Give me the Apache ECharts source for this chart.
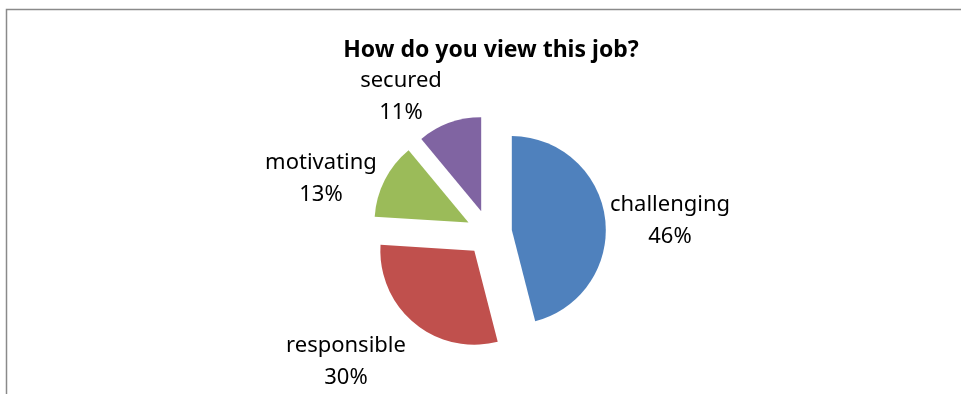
<!DOCTYPE html>
<html>
<head>
<meta charset="utf-8">
<script src="https://cdn.jsdelivr.net/npm/echarts@6/dist/echarts.min.js"></script>
<style>
  html, body { margin: 0; padding: 0; background: #fff; }
  #chart { width: 961px; height: 394px; }
</style>
</head>
<body>
<div id="chart"></div>
<script>
// Survey answers: how respondents view the job (percent)
const categories = ['challenging', 'responsible', 'motivating', 'secured'];
const shares = [46, 30, 13, 11];
const colors = ['#4F81BD', '#C0504D', '#9BBB59', '#8064A2'];

// Centre point of each two-line category label
const labelPos = [[670, 221], [346, 362], [321, 179], [401, 97]];

const pieCenter = [489, 233];
const pieRadius = 94;

const chart = echarts.init(document.getElementById('chart'), null, { renderer: 'canvas' });

const pieData = (extra) => categories.map((name, i) => Object.assign({
  name: name,
  value: shares[i]
}, extra(i)));

chart.setOption({
  animation: false,
  backgroundColor: '#ffffff',
  title: {
    text: 'How do you view this job?',
    left: 486,
    textAlign: 'center',
    top: 34,
    textStyle: {
      fontFamily: 'Noto Sans',
      fontWeight: 'bold',
      fontSize: 23,
      color: '#000'
    }
  },
  graphic: [{
    type: 'rect',
    shape: { x: 6.5, y: 9.5, width: 1100, height: 600 },
    style: { fill: 'none', stroke: '#8a8a8a', lineWidth: 1.5 },
    silent: true
  }],
  series: [
    // Exploded slices
    {
      type: 'pie',
      center: pieCenter,
      radius: [0, pieRadius],
      startAngle: 90,
      clockwise: true,
      selectedMode: 'multiple',
      selectedOffset: 23,
      silent: true,
      select: { itemStyle: { borderWidth: 0 } },
      emphasis: { disabled: true },
      label: { show: false },
      labelLine: { show: false },
      data: pieData(i => ({ selected: true, itemStyle: { color: colors[i] } }))
    },
    // Category labels, laid out over a transparent copy of the pie
    {
      type: 'pie',
      center: pieCenter,
      radius: [0, pieRadius],
      startAngle: 90,
      clockwise: true,
      silent: true,
      avoidLabelOverlap: false,
      emphasis: { disabled: true },
      itemStyle: { color: 'rgba(0,0,0,0)', borderWidth: 0 },
      data: pieData(() => ({})),
      label: {
        show: true,
        position: 'outside',
        formatter: p => p.name + '\n' + p.value + '%',
        fontFamily: 'Noto Sans',
        fontSize: 22,
        lineHeight: 32,
        color: '#000',
        align: 'center'
      },
      labelLine: { show: false },
      labelLayout: function (params) {
        const pos = labelPos[params.dataIndex];
        return { x: pos[0], y: pos[1], align: 'center', verticalAlign: 'middle' };
      }
    }
  ]
});
</script>
</body>
</html>
